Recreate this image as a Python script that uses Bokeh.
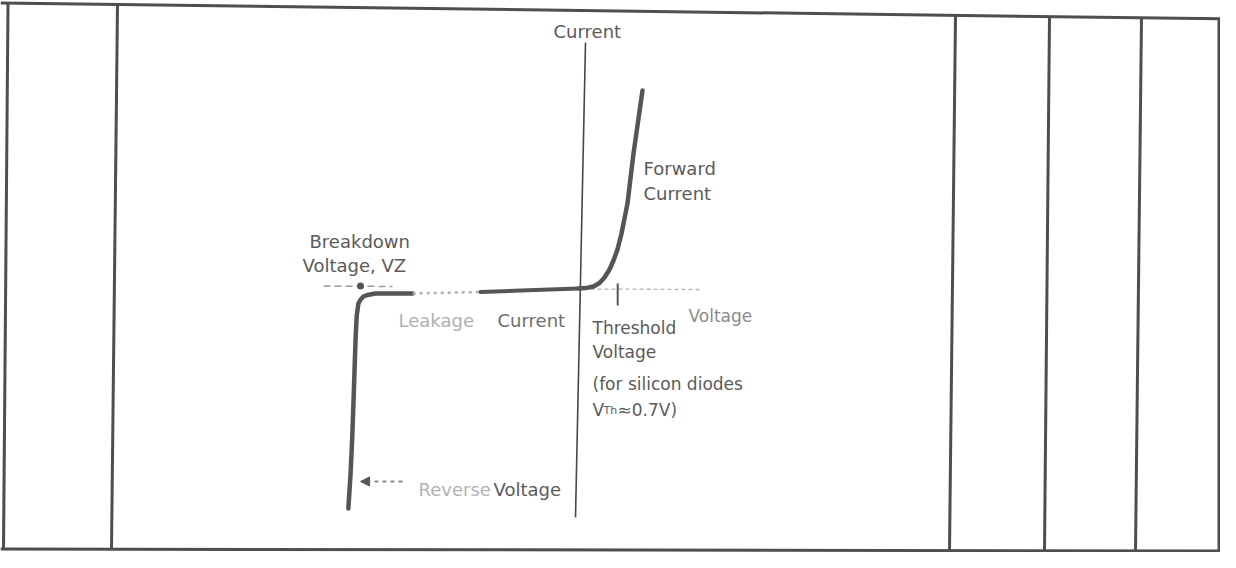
from bokeh.plotting import figure
from bokeh.models import Range1d, Arrow, NormalHead
from bokeh.core.properties import value
from bokeh.embed import file_html
from bokeh.resources import INLINE

# ---------------- data (diode I-V characteristic, schematic units) ----------------
# reverse / breakdown branch (voltage in V, current in mA)
reverse_v = [-4.11, -4.07, -4.04, -4.01, -3.98, -3.96, -3.93, -3.89, -3.84, -3.77, -3.63, -2.96]
reverse_i = [-22.0, -18.5, -14.9, -10.0, -4.9, -2.7, -1.5, -1.1, -0.8, -0.65, -0.5, -0.5]
# leakage region (faint part, then solid part up to origin)
leak_faint_v = [-2.96, -1.75]
leak_faint_i = [-0.5, -0.35]
leak_v = [-1.75, -0.9, 0.0]
leak_i = [-0.35, -0.18, 0.0]
# forward branch
forward_v = [0.0, 0.125, 0.268, 0.375, 0.464, 0.554, 0.625, 0.696, 0.768, 0.875, 0.982, 1.143]
forward_i = [0.0, 0.04, 0.2, 0.55, 1.1, 1.9, 2.8, 3.9, 5.5, 8.5, 13.5, 19.8]
threshold_v = 0.7

# ---------------- layout helpers (page pixels -> chart units) ----------------
W, H = 1220, 552
OX, OY = 578.0, 288.0      # origin position in page pixels
PXV, PXI = 56.0, 10.0      # pixels per volt, pixels per mA


def vx(px):
    return (px - OX) / PXV


def iy(py):
    return (OY - py) / PXI


p = figure(width=W, height=H, output_backend="svg", toolbar_location=None,
           x_range=Range1d(vx(0), vx(W)), y_range=Range1d(iy(H), iy(0)),
           min_border=0, x_axis_location=None, y_axis_location=None,
           outline_line_color=None, background_fill_color="white",
           border_fill_color="white")
p.xgrid.visible = False
p.ygrid.visible = False

# ---------------- scanned table frame ----------------
TBL = "#4e4e4e"
top_y = lambda px: 2.5 + (px / 1236.0) * 16
bot_y = lambda px: 548.5 + (px / 1236.0) * 2
p.line([vx(0), vx(1236)], [iy(top_y(0)), iy(top_y(1236))], line_color=TBL, line_width=3)
p.line([vx(0), vx(1236)], [iy(bot_y(0)), iy(bot_y(1236))], line_color=TBL, line_width=3)
col_top = [7.5, 117, 955, 1049, 1141, 1218.5]
col_bot = [3.0, 111, 949, 1044, 1135, 1218.5]
for xt, xb in zip(col_top, col_bot):
    p.line([vx(xt), vx(xb)], [iy(top_y(xt)), iy(bot_y(xb))], line_color=TBL, line_width=3)

# ---------------- axes of the sketch ----------------
p.line([vx(585), vx(575)], [iy(42), iy(517)], line_color="#474747", line_width=1.6)
p.line([vx(323), vx(392)], [iy(285.5), iy(286)], line_color="#9a9a9a", line_width=1.5,
       line_dash="7 4")
p.line([vx(590), vx(700)], [iy(288.5), iy(289)], line_color="#b5b5b5", line_width=1.3,
       line_dash="4 3")
p.scatter([vx(360)], [iy(285.5)], size=7, marker="circle", fill_color="#555555",
          line_color=None)

# ---------------- characteristic curve ----------------
CURVE = "#555555"
p.line(reverse_v, reverse_i, line_color=CURVE, line_width=4.5, line_join="round",
       line_cap="round")
p.line(leak_faint_v, leak_faint_i, line_color="#b0b0b0", line_width=2.5, line_dash="3 4")
p.line(leak_v, leak_i, line_color=CURVE, line_width=4, line_join="round", line_cap="round")
p.line(forward_v, forward_i, line_color=CURVE, line_width=4.5, line_join="round",
       line_cap="round")
# threshold tick
p.line([threshold_v, threshold_v], [iy(283), iy(305)], line_color="#555555", line_width=2)

# reverse-voltage arrow
p.add_layout(Arrow(end=NormalHead(size=9, fill_color="#555555", line_color="#555555"),
                   x_start=vx(402), y_start=iy(481), x_end=vx(360), y_end=iy(481),
                   line_color="#8a8a8a", line_width=2, line_dash="4 4"))

# ---------------- labels ----------------
FONT = value("DejaVu Sans")


def label(px, py, txt, size="18px", color="#5a5a5a"):
    p.text([vx(px)], [iy(py)], text=[txt], text_font=FONT, text_font_size=size,
           text_color=color, text_align="left", text_baseline="alphabetic")


label(553, 31, "Current")
label(643, 168, "Forward")
label(643, 193, "Current")
label(309, 241, "Breakdown")
label(302, 265, "Voltage, VZ")
label(398, 320, "Leakage", color="#b0b0b0")
label(497, 320, "Current", color="#6e6e6e")
label(688, 315, "Voltage", size="17px", color="#8a8a8a")
label(592, 327, "Threshold", size="17px")
label(592, 351, "Voltage", size="17px")
label(592, 383, "(for silicon diodes", size="17px")
label(592, 409, "V", size="17px")
label(603, 410, "Th", size="11px")
label(617, 409, "\u22480.7V)", size="17px")
label(418, 489, "Reverse", color="#b3b3b3")
label(493, 489, "Voltage")

open("out.html", "w").write(file_html(p, INLINE))
